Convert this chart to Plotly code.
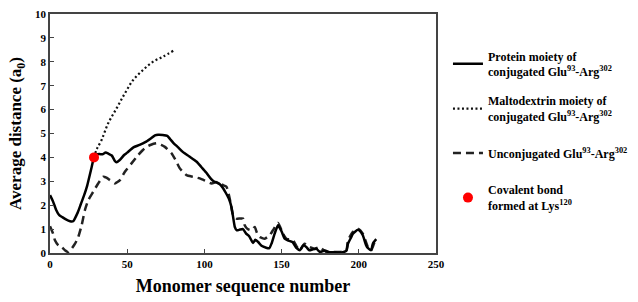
import plotly.graph_objects as go

# Protein moiety of conjugated Glu93-Arg302 (solid)
protein_x = [0, 2, 4, 6, 8, 10, 13, 15, 18, 20, 22, 24, 27, 28.5, 30, 32, 34, 36, 38, 40, 42, 43, 45, 48, 50,
             54, 58, 62, 65, 68, 70, 73, 76, 78, 80, 83, 86, 90, 95, 98, 101, 104, 106, 108, 110, 112, 114, 116,
             117.5, 118.6, 119.7, 121, 123, 125, 127, 129, 131.5, 133, 135, 137, 140, 142, 143.5, 145.5, 147.7,
             150, 152, 154, 157, 159.5, 162, 164, 166, 168, 170, 172.5, 174.6, 178, 181, 185, 189, 192, 193, 195,
             196.2, 199.4, 201, 202.6, 204.8, 206, 208, 209.1, 211.3]
protein_y = [2.42, 2.15, 1.8, 1.58, 1.5, 1.42, 1.33, 1.33, 1.7, 2.05, 2.4, 2.8, 3.6, 4.0, 4.12, 4.14, 4.13, 4.2,
             4.15, 4.08, 3.85, 3.8, 3.88, 4.1, 4.2, 4.42, 4.52, 4.65, 4.78, 4.92, 4.95, 4.94, 4.9, 4.75, 4.6, 4.42,
             4.23, 4.05, 3.82, 3.6, 3.38, 3.12, 3.0, 2.95, 2.88, 2.72, 2.5, 2.25, 1.93, 1.5, 1.09, 0.95, 0.98,
             1.0, 0.81, 0.7, 0.42, 0.55, 0.45, 0.3, 0.22, 0.2, 0.4, 0.81, 1.16, 0.9, 0.6, 0.53, 0.46, 0.22, 0.12,
             0.32, 0.25, 0.11, 0.15, 0.18, 0.05, 0.1, 0.03, 0.03, 0.02, 0.1, 0.39, 0.65, 0.81, 0.97, 0.9, 0.74,
             0.32, 0.2, 0.12, 0.39, 0.58]

# Maltodextrin moiety of conjugated Glu93-Arg302 (dotted)
malto_x = [28.5, 30, 33.4, 37.7, 43.1, 48.5, 53.9, 60.3, 66.8, 73.3, 79.8]
malto_y = [4.0, 4.3, 4.73, 5.43, 6.05, 6.68, 7.24, 7.66, 8.01, 8.22, 8.46]

# Unconjugated Glu93-Arg302 (dashed)
uncon_x = [0, 2, 3.2, 5.4, 7.5, 10, 11.8, 14, 16.2, 18.3, 20.5, 22.6, 24.8, 28, 31.2, 34.5, 36.5, 38.8, 42,
           45.3, 48.5, 52.8, 57.1, 60, 62.5, 65, 69, 72, 74.4, 78.7, 81.9, 84.1, 88.4, 92.7, 97, 101.3, 104.6,
           108.9, 112.1, 114.3, 116.4, 118.6, 120.8, 123, 125, 126.1, 128, 130.5, 132.6, 134, 135.8, 139.1,
           142.3, 144.4, 147.7, 150.9, 153.1, 157.4, 159.5, 161.7, 164.9, 168.2, 171.4, 174.6, 179, 183, 187.6,
           191.9, 193, 196.2, 199.4, 202.6, 205.9, 208, 210.2, 211.3]
uncon_y = [1.12, 0.81, 0.53, 0.32, 0.25, 0.1, 0.04, 0.18, 0.39, 0.67, 1.16, 1.79, 2.21, 2.56, 2.91, 3.19, 3.15,
           3.05, 2.91, 3.05, 3.4, 3.75, 4.1, 4.3, 4.44, 4.52, 4.59, 4.52, 4.44, 4.17, 3.82, 3.54, 3.26, 3.19,
           3.12, 3.0, 2.91, 2.98, 2.84, 2.77, 2.28, 1.58, 1.44, 1.44, 1.44, 1.16, 1.0, 0.95, 1.09, 0.85, 0.67,
           0.6, 0.74, 0.95, 1.26, 0.81, 0.6, 0.53, 0.3, 0.11, 0.39, 0.25, 0.18, 0.25, 0.04, 0.04, 0.04, 0.11,
           0.53, 0.88, 1.02, 0.81, 0.25, 0.11, 0.46, 0.6]

# Covalent bond at Lys120
bond_x = [28.5]
bond_y = [4.0]

x_ticks = [0, 50, 100, 150, 200, 250]
y_ticks = [0, 1, 2, 3, 4, 5, 6, 7, 8, 9, 10]

FONT = "Liberation Serif"

fig = go.Figure()
fig.add_trace(go.Scatter(
    x=uncon_x, y=uncon_y, mode="lines", legend="legend3",
    name="<b>Unconjugated Glu<sup>93</sup>-Arg<sup>302</sup></b>",
    line=dict(color="#222222", width=2.5, dash="8px,5px", shape="spline", smoothing=0.5)))
fig.add_trace(go.Scatter(
    x=malto_x, y=malto_y, mode="lines", legend="legend2",
    name="<b>Maltodextrin moiety of<br>conjugated Glu<sup>93</sup>-Arg<sup>302</sup></b>",
    line=dict(color="#111111", width=2.2, dash="2px,2.5px", shape="spline")))
fig.add_trace(go.Scatter(
    x=protein_x, y=protein_y, mode="lines", legend="legend",
    name="<b>Protein moiety of<br>conjugated Glu<sup>93</sup>-Arg<sup>302</sup></b>",
    line=dict(color="#000000", width=2.5, shape="spline", smoothing=0.5)))
fig.add_trace(go.Scatter(
    x=bond_x, y=bond_y, mode="markers", legend="legend4",
    name="<b>Covalent bond<br>formed at Lys<sup>120</sup></b>",
    marker=dict(color="#ff0000", size=10)))

axis_common = dict(
    showgrid=False, zeroline=False, showline=True, linecolor="#444444", linewidth=1.5,
    mirror=True, ticks="inside", ticklen=4, tickwidth=1, tickcolor="#444444",
    tickfont=dict(family=FONT, size=11, color="#000000"), automargin=True,
)

legend_common = dict(xanchor="left", yanchor="middle", x=1.031,
                     font=dict(family=FONT, size=12, color="#000000"),
                     itemwidth=30, bgcolor="rgba(0,0,0,0)")

fig.update_layout(
    width=638, height=302,
    margin=dict(l=50, r=202, t=14, b=49, autoexpand=False),
    plot_bgcolor="white", paper_bgcolor="white",
    font=dict(family=FONT, color="#000000"),
    xaxis=dict(range=[0, 250], tickvals=x_ticks, ticktext=[f"<b>{v}</b>" for v in x_ticks], **axis_common,
               title=dict(text="<b>Monomer sequence number</b>", font=dict(family=FONT, size=18), standoff=10)),
    yaxis=dict(range=[0, 10], tickvals=y_ticks, ticktext=[f"<b>{v}</b>" for v in y_ticks], **axis_common,
               title=dict(text="<b>Average distance (a<sub>0</sub>)</b>", font=dict(family=FONT, size=17),
                          standoff=9)),
    legend=dict(y=0.79, **legend_common),
    legend2=dict(y=0.6025, **legend_common),
    legend3=dict(y=0.4184, **legend_common),
    legend4=dict(y=0.2301, **legend_common),
    showlegend=True,
)

fig.write_html("out.html", config={"displayModeBar": False},
               post_script="document.body.style.margin='0';")
